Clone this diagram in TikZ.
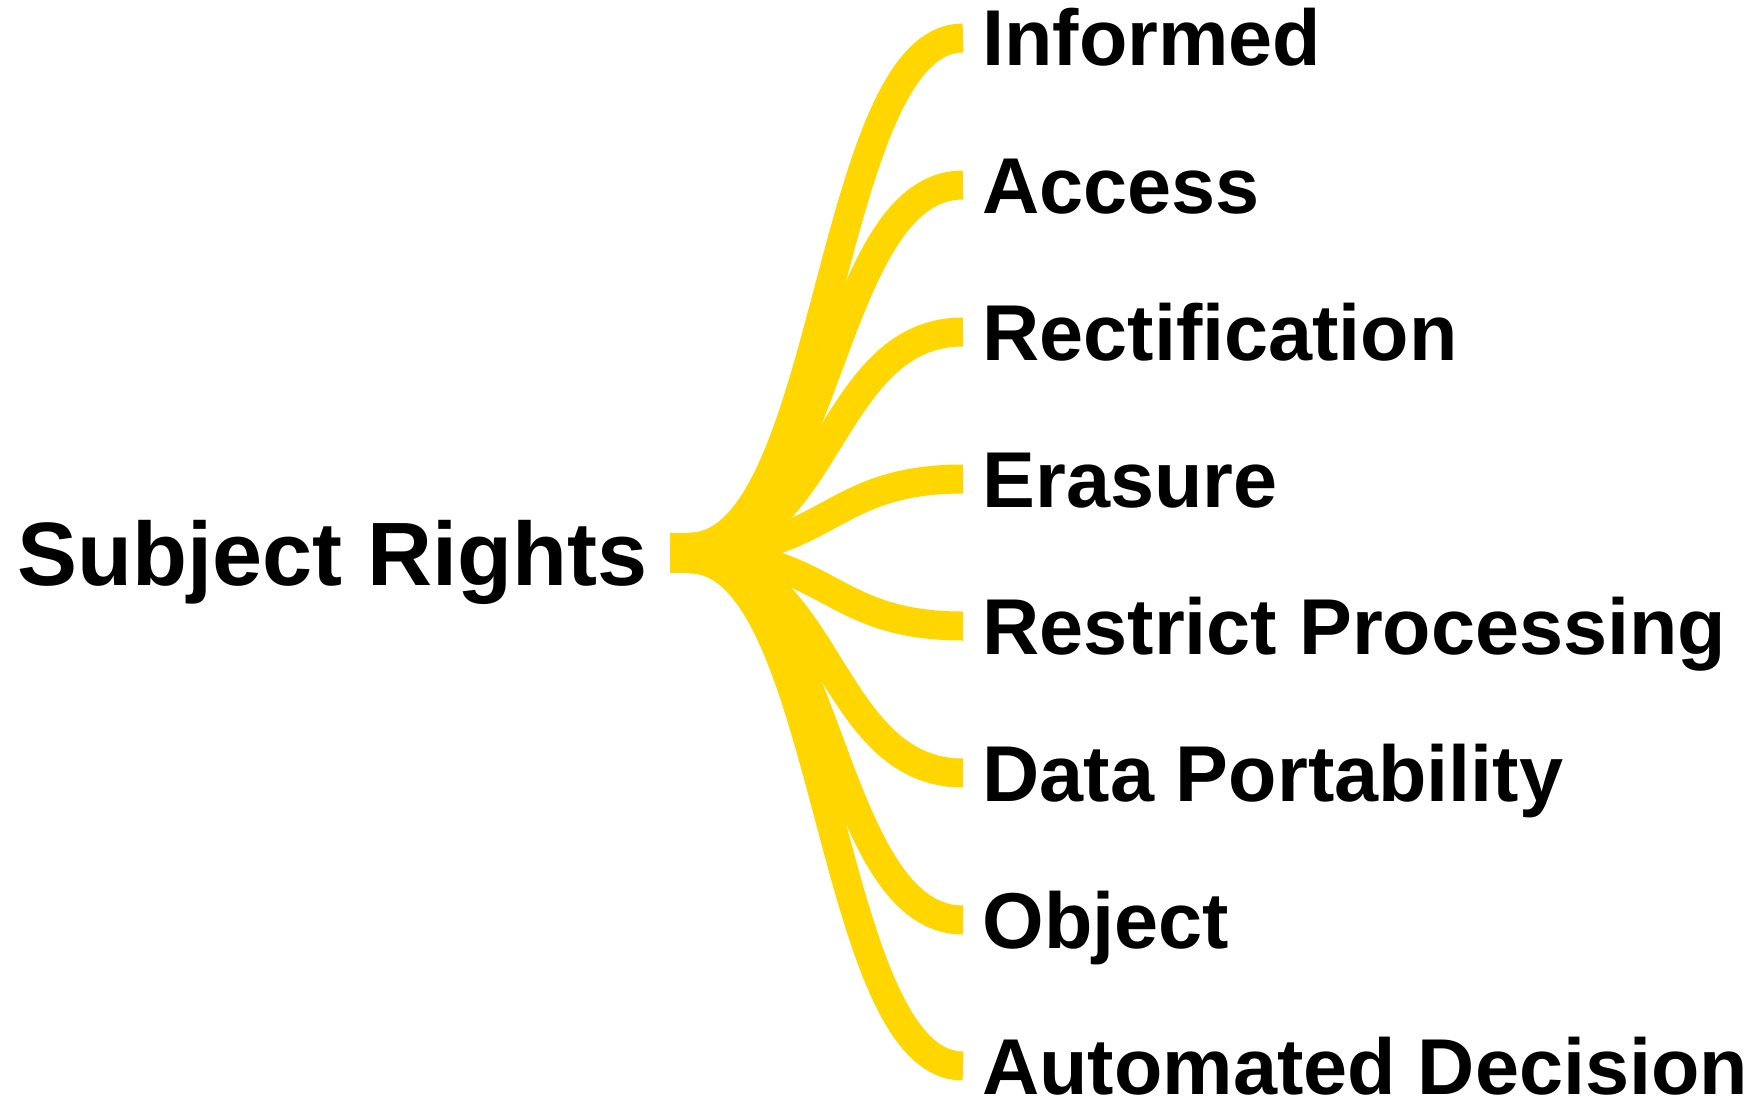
\documentclass[tikz,border=0pt]{standalone}
\usepackage{fontspec}
\setmainfont{Liberation Sans}
\definecolor{branchgold}{HTML}{FFD600}
\tikzset{
  lab/.style={inner sep=0pt, anchor=base west, font=\fontsize{39.6}{47}\selectfont\bfseries, text=black},
  rootlab/.style={inner sep=0pt, anchor=base west, font=\fontsize{45}{54}\selectfont\bfseries, text=black},
  branch/.style={draw=branchgold, line width=14.5pt, line cap=butt}
}
\begin{document}
\begin{tikzpicture}[x=0.5pt,y=-0.5pt]
\useasboundingbox (0,0) rectangle (1754,1102);
\node[rootlab] (root) at (17,585) {Subject Rights};
\coordinate (hub) at (690,553);
\fill[branchgold] (670,533) rectangle (694,573);
\node[lab] (l1) at (982,66) {Informed};
\node[lab] (l2) at (982,213) {Access};
\node[lab] (l3) at (982,360) {Rectification};
\node[lab] (l4) at (982,507) {Erasure};
\node[lab] (l5) at (982,654) {Restrict Processing};
\node[lab] (l6) at (982,801) {Data Portability};
\node[lab] (l7) at (982,948) {Object};
\node[lab] (l8) at (982,1094) {Automated Decision};
\foreach \i in {1,...,8}{
  \pgfmathsetmacro{\off}{(4.5-\i)/3.5*3}
  \draw[branch] ([yshift=\off pt]hub) .. controls +(140,0) and +(-136,0) .. ([xshift=-9.5pt,yshift=14pt]l\i.base west);
}
\end{tikzpicture}
\end{document}
